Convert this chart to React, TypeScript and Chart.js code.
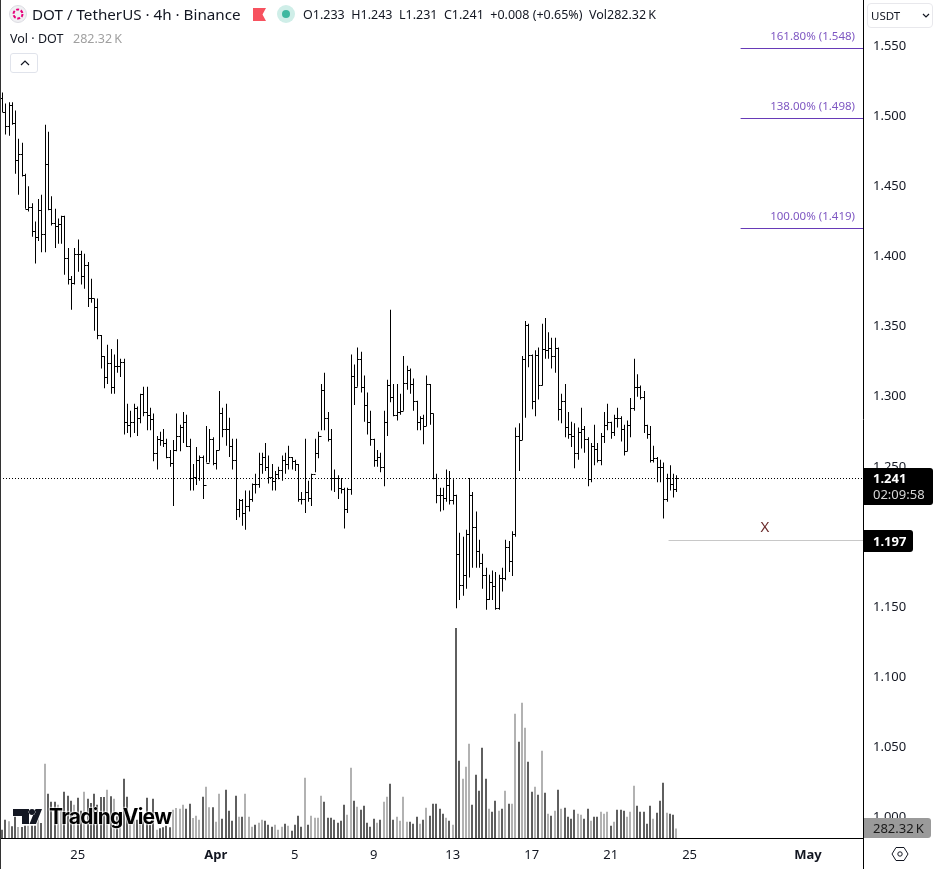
import { useEffect, useRef } from "react"
import { BarController, Chart, LineController, registerables } from "chart.js"

Chart.register(...registerables)

const FONT = '"Noto Sans", sans-serif'

const highs = [
  1.516, 1.508, 1.509, 1.509, 1.503, 1.483, 1.48, 1.458, 1.449, 1.437,
  1.424, 1.44, 1.443, 1.493, 1.488, 1.442, 1.433, 1.426, 1.428, 1.428,
  1.405, 1.385, 1.405, 1.411, 1.403, 1.401, 1.395, 1.383, 1.369, 1.369,
  1.343, 1.328, 1.336, 1.333, 1.329, 1.34, 1.326, 1.326, 1.294, 1.289,
  1.294, 1.292, 1.301, 1.306, 1.306, 1.291, 1.287, 1.271, 1.274, 1.276,
  1.269, 1.261, 1.268, 1.287, 1.279, 1.288, 1.286, 1.269, 1.251, 1.263,
  1.257, 1.257, 1.278, 1.276, 1.27, 1.261, 1.303, 1.291, 1.294, 1.284,
  1.269, 1.269, 1.226, 1.226, 1.232, 1.232, 1.237, 1.244, 1.259, 1.259,
  1.266, 1.257, 1.251, 1.246, 1.249, 1.257, 1.259, 1.264, 1.256, 1.254,
  1.251, 1.231, 1.269, 1.239, 1.244, 1.269, 1.274, 1.308, 1.316, 1.288,
  1.276, 1.247, 1.243, 1.241, 1.234, 1.234, 1.329, 1.322, 1.334, 1.331,
  1.314, 1.302, 1.289, 1.269, 1.261, 1.259, 1.289, 1.311, 1.361, 1.308,
  1.308, 1.301, 1.328, 1.321, 1.319, 1.312, 1.296, 1.285, 1.286, 1.314,
  1.308, 1.287, 1.244, 1.234, 1.234, 1.247, 1.246, 1.24, 1.229, 1.202,
  1.199, 1.204, 1.241, 1.231, 1.217, 1.197, 1.187, 1.177, 1.172, 1.175,
  1.174, 1.172, 1.177, 1.197, 1.196, 1.203, 1.277, 1.28, 1.328, 1.353,
  1.351, 1.329, 1.332, 1.334, 1.351, 1.355, 1.345, 1.341, 1.341, 1.334,
  1.301, 1.308, 1.288, 1.281, 1.28, 1.277, 1.291, 1.278, 1.27, 1.266,
  1.279, 1.266, 1.273, 1.288, 1.294, 1.281, 1.286, 1.291, 1.285, 1.279,
  1.282, 1.298, 1.326, 1.315, 1.307, 1.303, 1.279, 1.278, 1.264, 1.256,
  1.254, 1.252, 1.244, 1.25, 1.244, 1.243,
]

const lows = [
  1.502, 1.486, 1.485, 1.493, 1.458, 1.443, 1.456, 1.433, 1.431, 1.413,
  1.394, 1.41, 1.402, 1.402, 1.432, 1.421, 1.405, 1.408, 1.408, 1.386,
  1.379, 1.361, 1.379, 1.388, 1.379, 1.376, 1.363, 1.366, 1.346, 1.34,
  1.319, 1.305, 1.308, 1.301, 1.301, 1.316, 1.313, 1.272, 1.273, 1.27,
  1.273, 1.271, 1.28, 1.285, 1.275, 1.275, 1.253, 1.247, 1.264, 1.263,
  1.255, 1.249, 1.221, 1.26, 1.26, 1.266, 1.263, 1.232, 1.232, 1.236,
  1.239, 1.226, 1.252, 1.252, 1.25, 1.247, 1.261, 1.27, 1.264, 1.256,
  1.247, 1.211, 1.213, 1.207, 1.204, 1.217, 1.224, 1.23, 1.234, 1.244,
  1.246, 1.237, 1.232, 1.232, 1.24, 1.239, 1.244, 1.247, 1.247, 1.246,
  1.224, 1.222, 1.216, 1.224, 1.221, 1.245, 1.255, 1.275, 1.275, 1.267,
  1.232, 1.231, 1.226, 1.23, 1.205, 1.216, 1.229, 1.293, 1.306, 1.302,
  1.281, 1.272, 1.264, 1.249, 1.249, 1.245, 1.235, 1.271, 1.295, 1.285,
  1.282, 1.286, 1.289, 1.304, 1.301, 1.289, 1.275, 1.275, 1.265, 1.278,
  1.279, 1.24, 1.223, 1.217, 1.218, 1.224, 1.222, 1.222, 1.148, 1.154,
  1.157, 1.162, 1.17, 1.177, 1.177, 1.177, 1.162, 1.147, 1.154, 1.154,
  1.147, 1.147, 1.16, 1.168, 1.174, 1.171, 1.199, 1.246, 1.268, 1.284,
  1.32, 1.29, 1.285, 1.297, 1.307, 1.326, 1.326, 1.319, 1.316, 1.282,
  1.28, 1.27, 1.269, 1.263, 1.248, 1.254, 1.262, 1.259, 1.235, 1.238,
  1.25, 1.252, 1.25, 1.266, 1.275, 1.269, 1.271, 1.277, 1.267, 1.257,
  1.26, 1.27, 1.289, 1.299, 1.297, 1.273, 1.269, 1.252, 1.252, 1.238,
  1.238, 1.212, 1.224, 1.232, 1.227, 1.231,
]

const closes = [
  1.502, 1.492, 1.507, 1.494, 1.468, 1.472, 1.457, 1.433, 1.434, 1.417,
  1.413, 1.432, 1.415, 1.465, 1.433, 1.423, 1.421, 1.422, 1.428, 1.398,
  1.383, 1.38, 1.401, 1.401, 1.385, 1.393, 1.369, 1.369, 1.363, 1.343,
  1.328, 1.313, 1.323, 1.306, 1.321, 1.321, 1.324, 1.281, 1.279, 1.281,
  1.291, 1.284, 1.301, 1.288, 1.286, 1.283, 1.259, 1.269, 1.268, 1.266,
  1.256, 1.252, 1.261, 1.271, 1.277, 1.281, 1.264, 1.241, 1.242, 1.254,
  1.256, 1.236, 1.252, 1.269, 1.252, 1.261, 1.287, 1.276, 1.276, 1.264,
  1.254, 1.219, 1.225, 1.216, 1.221, 1.226, 1.237, 1.237, 1.251, 1.256,
  1.249, 1.242, 1.239, 1.244, 1.247, 1.254, 1.251, 1.256, 1.253, 1.251,
  1.226, 1.226, 1.231, 1.227, 1.244, 1.259, 1.271, 1.304, 1.284, 1.269,
  1.241, 1.241, 1.234, 1.233, 1.219, 1.233, 1.314, 1.306, 1.326, 1.306,
  1.293, 1.281, 1.269, 1.254, 1.256, 1.249, 1.281, 1.307, 1.299, 1.286,
  1.288, 1.289, 1.309, 1.318, 1.308, 1.296, 1.281, 1.284, 1.278, 1.308,
  1.287, 1.241, 1.229, 1.229, 1.227, 1.236, 1.225, 1.229, 1.187, 1.165,
  1.172, 1.201, 1.229, 1.206, 1.189, 1.18, 1.172, 1.155, 1.167, 1.164,
  1.148, 1.17, 1.17, 1.192, 1.182, 1.201, 1.271, 1.268, 1.326, 1.35,
  1.329, 1.296, 1.329, 1.307, 1.333, 1.332, 1.334, 1.328, 1.334, 1.29,
  1.296, 1.277, 1.272, 1.271, 1.259, 1.274, 1.276, 1.269, 1.24, 1.264,
  1.262, 1.254, 1.271, 1.279, 1.281, 1.274, 1.284, 1.284, 1.276, 1.26,
  1.279, 1.291, 1.306, 1.306, 1.299, 1.279, 1.272, 1.254, 1.255, 1.249,
  1.249, 1.226, 1.241, 1.237, 1.233, 1.241,
]

const opens = [
  1.512, 1.502, 1.492, 1.507, 1.494, 1.468, 1.472, 1.457, 1.433, 1.434,
  1.417, 1.413, 1.432, 1.415, 1.465, 1.433, 1.423, 1.421, 1.422, 1.428,
  1.398, 1.383, 1.38, 1.401, 1.401, 1.385, 1.393, 1.369, 1.369, 1.363,
  1.343, 1.328, 1.313, 1.323, 1.306, 1.321, 1.321, 1.324, 1.281, 1.279,
  1.281, 1.291, 1.284, 1.301, 1.288, 1.286, 1.283, 1.259, 1.269, 1.268,
  1.266, 1.256, 1.252, 1.261, 1.271, 1.277, 1.281, 1.264, 1.241, 1.242,
  1.254, 1.256, 1.236, 1.252, 1.269, 1.252, 1.261, 1.287, 1.276, 1.276,
  1.264, 1.254, 1.219, 1.225, 1.216, 1.221, 1.226, 1.237, 1.237, 1.251,
  1.256, 1.249, 1.242, 1.239, 1.244, 1.247, 1.254, 1.251, 1.256, 1.253,
  1.251, 1.226, 1.226, 1.231, 1.227, 1.244, 1.259, 1.271, 1.304, 1.284,
  1.269, 1.241, 1.241, 1.234, 1.233, 1.219, 1.233, 1.314, 1.306, 1.326,
  1.306, 1.293, 1.281, 1.269, 1.254, 1.256, 1.249, 1.281, 1.307, 1.299,
  1.286, 1.288, 1.289, 1.309, 1.318, 1.308, 1.296, 1.281, 1.284, 1.278,
  1.308, 1.287, 1.241, 1.229, 1.229, 1.227, 1.236, 1.225, 1.229, 1.187,
  1.165, 1.172, 1.201, 1.229, 1.206, 1.189, 1.18, 1.172, 1.155, 1.167,
  1.164, 1.148, 1.17, 1.17, 1.192, 1.182, 1.201, 1.271, 1.268, 1.326,
  1.35, 1.329, 1.296, 1.329, 1.307, 1.333, 1.332, 1.334, 1.328, 1.334,
  1.29, 1.296, 1.277, 1.272, 1.271, 1.259, 1.274, 1.276, 1.269, 1.24,
  1.264, 1.262, 1.254, 1.271, 1.279, 1.281, 1.274, 1.284, 1.284, 1.276,
  1.26, 1.279, 1.291, 1.306, 1.306, 1.299, 1.279, 1.272, 1.254, 1.255,
  1.249, 1.249, 1.226, 1.241, 1.237, 1.233,
]

// in thousands of DOT
const volumes = [
  250, 550, 500, 350, 650, 330, 330, 370, 370, 370,
  370, 850, 450, 2230, 1330, 1090, 1090, 1000, 850, 1390,
  1270, 1120, 1000, 1210, 820, 1390, 1180, 1050, 1330, 1000,
  1230, 1230, 1450, 1250, 1180, 650, 750, 1780, 1240, 650,
  600, 550, 600, 500, 1210, 400, 1180, 250, 290, 320,
  370, 320, 850, 900, 880, 1000, 880, 1030, 600, 670,
  550, 1240, 1540, 920, 920, 490, 1330, 580, 1450, 820,
  520, 1270, 640, 640, 1330, 640, 340, 400, 460, 550,
  520, 400, 340, 400, 250, 340, 430, 370, 220, 400,
  670, 340, 1810, 400, 670, 610, 610, 1270, 1090, 610,
  610, 550, 460, 520, 1000, 700, 2110, 1120, 940, 850,
  970, 460, 340, 580, 460, 550, 1090, 1240, 1630, 550,
  640, 520, 1240, 490, 490, 430, 640, 430, 550, 910,
  670, 1030, 1030, 880, 730, 610, 520, 400, 6300, 2320,
  1780, 2140, 2830, 1000, 1900, 1420, 2710, 1780, 880, 790,
  1120, 820, 880, 1420, 1030, 1030, 3730, 2890, 4060, 3310,
  2290, 1390, 1540, 1300, 2620, 1360, 730, 670, 820, 1450,
  880, 910, 640, 580, 850, 730, 700, 580, 880, 520,
  640, 640, 790, 730, 790, 370, 490, 850, 850, 820,
  640, 790, 1570, 970, 790, 790, 430, 970, 580, 760,
  1120, 1660, 760, 730, 700, 282.32,
]

const priceTicks = [1.55, 1.5, 1.45, 1.4, 1.35, 1.3, 1.25, 1.2, 1.15, 1.1, 1.05, 1.0]
const timeTicks = [23, 65, 89, 113, 137, 161, 185, 209, 245]
const timeLabels = ["25", "Apr", "5", "9", "13", "17", "21", "25", "May"]
const boldLabels = ["Apr", "May"]

const fibLevels = [1.548, 1.498, 1.419]
const fibLabels = ["161.80% (1.548)", "138.00% (1.498)", "100.00% (1.419)"]
const targetPrice = 1.197
const lastClose = 1.241
const lastVolume = 282.32

const X_MIN = -0.6
const X_MAX = 261.7

// bars land on whole pixels, the way the original is drawn
class SnapBarController extends BarController {
  static id = "snapBar"
  static defaults = BarController.defaults
  static overrides = BarController.overrides

  updateElements(bars: any[], start: number, count: number, mode: any) {
    super.updateElements(bars, start, count, mode)
    const odd = (this.getDataset() as any).barThickness % 2 === 1
    for (let i = start; i < start + count; i++) {
      bars[i].x = Math.round(bars[i].x) + (odd ? 0.5 : 0)
    }
  }
}

class OhlcController extends SnapBarController {
  static id = "ohlc"

  draw() {
    super.draw()
    const { ctx } = this.chart
    const meta = this.getMeta()
    const y = meta.vScale!
    ctx.save()
    ctx.strokeStyle = "#000"
    ctx.lineWidth = 1
    ctx.beginPath()
    meta.data.forEach((bar: any, i) => {
      const yo = Math.round(y.getPixelForValue(opens[i])) + 0.5
      const yc = Math.round(y.getPixelForValue(closes[i])) + 0.5
      ctx.moveTo(bar.x - 2, yo)
      ctx.lineTo(bar.x, yo)
      ctx.moveTo(bar.x, yc)
      ctx.lineTo(bar.x + 2, yc)
    })
    ctx.stroke()
    ctx.restore()
  }
}

class SnapLineController extends LineController {
  static id = "snapLine"
  static defaults = LineController.defaults
  static overrides = LineController.overrides

  updateElements(points: any[], start: number, count: number, mode: any) {
    super.updateElements(points, start, count, mode)
    for (let i = start; i < start + count; i++) {
      points[i].y = Math.round(points[i].y) + 0.5
    }
  }
}

Chart.register(SnapBarController, OhlcController, SnapLineController)

function tag(
  ctx: CanvasRenderingContext2D,
  x: number,
  top: number,
  w: number,
  h: number,
  color: string,
) {
  ctx.fillStyle = color
  ctx.beginPath()
  ctx.roundRect(x, top, w, h, [0, 3, 3, 0])
  ctx.fill()
}

const overlayPlugin = {
  id: "overlay",
  afterDraw(chart: any) {
    const { ctx, scales, chartArea } = chart
    const y = scales.y
    ctx.save()

    // fib labels sit over their lines
    ctx.font = `11.5px ${FONT}`
    ctx.fillStyle = "#7e57c2"
    ctx.textAlign = "right"
    ctx.textBaseline = "alphabetic"
    fibLevels.forEach((level, i) => {
      ctx.fillText(fibLabels[i], 855, y.getPixelForValue(level) - 8)
    })

    ctx.font = `15px ${FONT}`
    ctx.fillStyle = "#6d2e2e"
    ctx.textAlign = "center"
    ctx.fillText("X", 765, y.getPixelForValue(targetPrice) - 8)

    ctx.textAlign = "left"
    const right = chartArea.right

    // last price
    const py = Math.round(y.getPixelForValue(lastClose))
    tag(ctx, right + 1, py - 10, 69, 37, "#000")
    ctx.fillStyle = "#fff"
    ctx.font = `bold 13px ${FONT}`
    ctx.fillText(lastClose.toFixed(3), right + 10, py + 5)
    ctx.fillStyle = "#d6d6d6"
    ctx.font = `13px ${FONT}`
    ctx.fillText("02:09:58", right + 10, py + 21)

    // target price
    const ty = Math.round(y.getPixelForValue(targetPrice))
    tag(ctx, right + 1, ty - 10, 49, 22, "#000")
    ctx.fillStyle = "#fff"
    ctx.font = `bold 13px ${FONT}`
    ctx.fillText(targetPrice.toFixed(3), right + 10, ty + 6)

    // last volume
    tag(ctx, right + 1, chartArea.bottom - 20, 67, 20, "#9a9a9a")
    ctx.fillStyle = "#1a1a1a"
    ctx.font = `13px ${FONT}`
    ctx.fillText(`${lastVolume}\u2009K`, right + 10, chartArea.bottom - 5)

    // pane edges run on past the axes
    ctx.fillStyle = "#000"
    ctx.fillRect(right, chartArea.bottom, 1, chart.height - chartArea.bottom)
    ctx.fillStyle = "#333"
    ctx.fillRect(0, 0, 1, chart.height)
    ctx.restore()
  },
}

function levelLine(price: number, fromIndex: number, color: string, extra = {}) {
  return {
    type: "snapLine" as any,
    data: [
      { x: fromIndex, y: price },
      { x: X_MAX, y: price },
    ],
    borderColor: color,
    borderWidth: 1,
    pointRadius: 0,
    yAxisID: "y",
    ...extra,
  }
}

function PriceChart() {
  const chartRef = useRef<HTMLCanvasElement>(null)

  useEffect(() => {
    const canvas = chartRef.current
    if (!canvas) return

    const chart = new Chart(canvas, {
      data: {
        datasets: [
          {
            type: "ohlc" as any,
            data: highs.map((h, i) => ({ x: i, y: [lows[i], h] })) as any,
            backgroundColor: "#000",
            barThickness: 1,
            grouped: false,
            inflateAmount: 0,
            yAxisID: "y",
            order: 1,
          },
          {
            type: "snapBar" as any,
            data: volumes.map((v, i) => ({ x: i, y: v })),
            backgroundColor: volumes.map((_, i) =>
              closes[i] > opens[i] ? "#b2b2b2" : "#5f5f5f",
            ),
            barThickness: 2,
            grouped: false,
            inflateAmount: 0,
            yAxisID: "yVol",
            order: 3,
          },
          levelLine(lastClose, X_MIN, "#000", { borderDash: [1, 2], order: 2 }),
          ...fibLevels.map((level) => levelLine(level, 224.5, "#673ab7", { order: 2 })),
          levelLine(targetPrice, 202.6, "#c8c8c8", { order: 2 }),
        ],
      },
      options: {
        responsive: false,
        animation: false,
        layout: { padding: 0 },
        events: [],
        plugins: {
          legend: { display: false },
          tooltip: { enabled: false },
        },
        scales: {
          x: {
            type: "linear",
            min: X_MIN,
            max: X_MAX,
            offset: false,
            grid: { display: false },
            border: { display: true, color: "#000" },
            afterBuildTicks: (scale: any) => {
              scale.ticks = timeTicks.map((value) => ({ value }))
            },
            afterFit: (scale: any) => {
              scale.height = 31
              scale.paddingLeft = 0
              scale.paddingRight = 0
            },
            ticks: {
              autoSkip: false,
              maxRotation: 0,
              padding: 1,
              color: "#131722",
              font: (ctx: any) => ({
                family: FONT,
                size: 13,
                weight: boldLabels.includes(ctx.tick?.label) ? "bold" : "normal",
              }),
              callback: (value: any) => timeLabels[timeTicks.indexOf(value)],
            },
          },
          y: {
            type: "linear",
            position: "right",
            min: 0.9842,
            max: 1.5819,
            grid: { display: false },
            border: { display: true, color: "#000" },
            afterBuildTicks: (scale: any) => {
              scale.ticks = priceTicks.map((value) => ({ value }))
            },
            afterFit: (scale: any) => {
              scale.width = 74
              scale.paddingTop = 0
              scale.paddingBottom = 0
            },
            ticks: {
              padding: 2,
              color: "#131722",
              // empty first line + small lineHeight nudges the text 1.5px down
              font: { family: FONT, size: 13, lineHeight: "3px" },
              callback: (value: any) => ["", Number(value).toFixed(3)],
            },
          },
          yVol: {
            type: "linear",
            display: false,
            min: 0,
            max: 25140,
          },
        },
      },
      plugins: [overlayPlugin],
    } as any)

    return () => chart.destroy()
  }, [])

  return <canvas ref={chartRef} width={937} height={869} style={{ display: "block" }} />
}

const label: React.CSSProperties = { position: "absolute", whiteSpace: "nowrap", lineHeight: 1 }

export default function App() {
  return (
    <div
      style={{
        position: "fixed",
        left: 0,
        top: 0,
        width: 937,
        height: 869,
        overflow: "hidden",
        background: "#fff",
        fontFamily: FONT,
        color: "#131722",
      }}
    >
      <PriceChart />

      {/* legend row */}
      <svg width="18" height="18" style={{ position: "absolute", left: 9, top: 5 }}>
        <circle cx="9" cy="9" r="8.5" fill="#f0f0f3" stroke="#dcdce2" />
        <circle cx="9" cy="9" r="4.5" fill="none" stroke="#e6007a" strokeWidth="2" strokeDasharray="3 1.7" />
      </svg>
      <span style={{ ...label, left: 32, top: 7, fontSize: 15.2 }}>DOT / TetherUS · 4h · Binance</span>
      <svg width="13" height="13" style={{ position: "absolute", left: 253, top: 8 }}>
        <path d="M0 0H13L9.5 6.5L13 13H0Z" fill="#f7525f" />
      </svg>
      <svg width="18" height="18" style={{ position: "absolute", left: 277, top: 5 }}>
        <circle cx="9" cy="9" r="9" fill="#cfeee8" />
        <circle cx="9" cy="9" r="4" fill="#3fb8a0" />
      </svg>
      <span style={{ ...label, left: 303, top: 9, fontSize: 12.5 }}>
        O1.233&nbsp; H1.243&nbsp; L1.231&nbsp; C1.241&nbsp; +0.008 (+0.65%)&nbsp; Vol282.32{"\u2009"}K
      </span>
      <span style={{ ...label, left: 10, top: 33, fontSize: 12.5 }}>Vol · DOT</span>
      <span style={{ ...label, left: 73, top: 33, fontSize: 12.5, color: "#a0a0a0" }}>282.32{"\u2009"}K</span>
      <div
        style={{
          position: "absolute",
          left: 10,
          top: 53,
          width: 28,
          height: 20,
          boxSizing: "border-box",
          border: "1px solid #e0e3eb",
          borderRadius: 3,
        }}
      />
      <svg width="10" height="6" style={{ position: "absolute", left: 20, top: 60 }}>
        <path d="M1 5L5 1L9 5" fill="none" stroke="#131722" strokeWidth="1.2" />
      </svg>

      {/* currency box */}
      <div
        style={{
          position: "absolute",
          left: 867,
          top: 3,
          width: 66,
          height: 25,
          boxSizing: "border-box",
          border: "1px solid #e8e8ec",
          borderRadius: 4,
        }}
      />
      <span style={{ ...label, left: 871, top: 10, fontSize: 11.5 }}>USDT</span>
      <svg width="8" height="5" style={{ position: "absolute", left: 922, top: 13 }}>
        <path d="M1 1L4 4L7 1" fill="none" stroke="#131722" strokeWidth="1.2" />
      </svg>

      {/* settings */}
      <svg width="18" height="16" style={{ position: "absolute", left: 891, top: 846 }}>
        <path d="M5 1.5H13L17 8L13 14.5H5L1 8Z" fill="none" stroke="#131722" />
        <circle cx="9" cy="8" r="2.2" fill="none" stroke="#131722" />
      </svg>

      {/* watermark */}
      <svg width="32" height="19" style={{ position: "absolute", left: 12, top: 807 }}>
        <path
          d="M1 2H17V17H10V9H1ZM30 2L24 17H17.5L23.5 2Z"
          fill="#131722"
          stroke="#fff"
          strokeWidth="1.5"
          paintOrder="stroke"
        />
        <circle cx="20" cy="5" r="3" fill="#131722" stroke="#fff" strokeWidth="1" paintOrder="stroke" />
      </svg>
      <span
        style={{
          ...label,
          left: 49,
          top: 806,
          fontSize: 21,
          fontFamily: "Inter, sans-serif",
          fontWeight: 700,
          letterSpacing: -0.7,
          color: "#000",
          textShadow: "0 0 2px #fff, 0 0 2px #fff, 0 0 2px #fff",
        }}
      >
        TradingView
      </span>
    </div>
  )
}
